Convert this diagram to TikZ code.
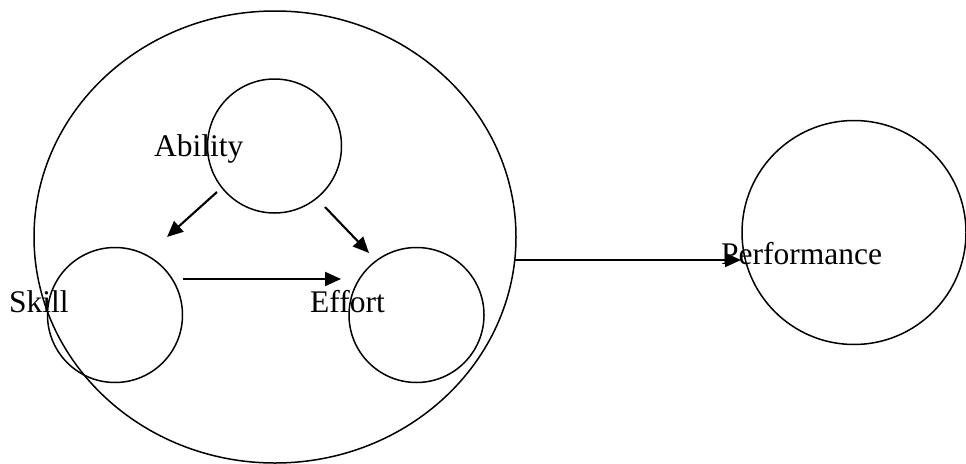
\documentclass[tikz,border=0pt]{standalone}
\usepackage{fontspec}
\setmainfont{Liberation Serif}
\usetikzlibrary{arrows.meta,shapes.geometric}
\begin{document}
\begin{tikzpicture}[x=1pt,y=-1pt,
  ring/.style={draw,circle,inner sep=0pt,line width=1.5pt},
  lbl/.style={anchor=base west,inner sep=0pt,font=\fontsize{31.5}{36}\selectfont},
  conn/.style={line width=2.1pt,-{Triangle[length=16pt,width=14pt]}}]
\useasboundingbox (0,0) rectangle (966,463);
\node[draw,ellipse,inner sep=0pt,line width=1.5pt,minimum width=482pt,minimum height=452pt] (big) at (275,237) {};
\node[ring,minimum size=134pt] (ab) at (274.5,146) {};
\node[ring,minimum size=135pt] (sk) at (115,315) {};
\node[ring,minimum size=135pt] (ef) at (416.5,315) {};
\node[ring,minimum size=224pt] (pf) at (854,232.5) {};
\node[lbl] (tab) at (154,156) {Ability};
\node[lbl] (tsk) at (9,312) {Skill};
\node[lbl] (tef) at (310,312) {Effort};
\node[lbl] (tpf) at (721,264) {Performance};
\coordinate (a1) at (217,192);
\coordinate (s1) at (167,237);
\coordinate (a2) at (325,207);
\coordinate (e1) at (369,253);
\coordinate (s2) at (183,279);
\coordinate (e2) at (341,279);
\coordinate (b1) at (515,260);
\coordinate (p1) at (741,260);
\draw[conn] (a1) -- (s1);
\draw[conn] (a2) -- (e1);
\draw[conn] (s2) -- (e2);
\draw[conn] (b1) -- (p1);
\end{tikzpicture}
\end{document}
